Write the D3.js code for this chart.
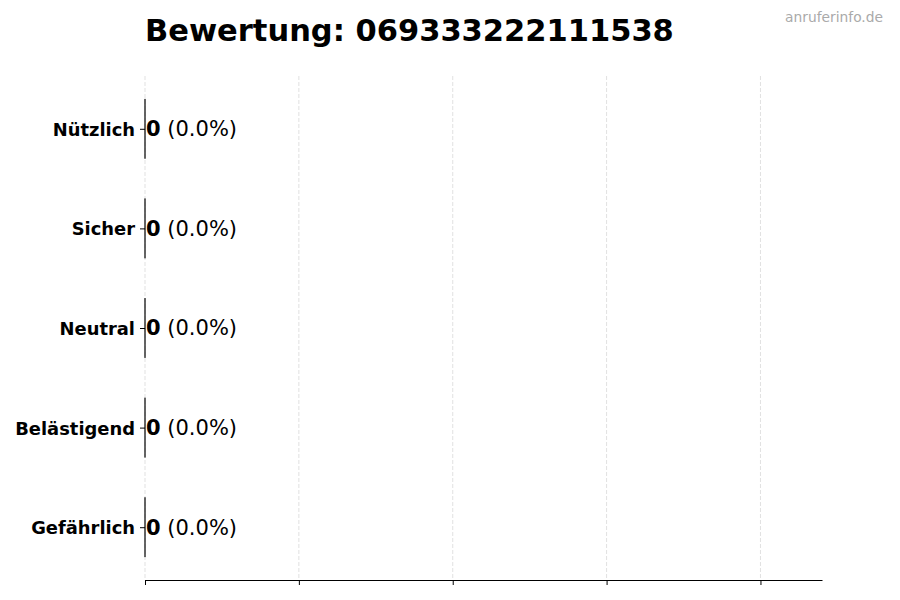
<!DOCTYPE html>
<html><head><meta charset="utf-8">
<script src="https://cdn.jsdelivr.net/npm/d3@7"></script>
<style>body{margin:0;background:#fff}svg{display:block;font-family:"DejaVu Sans",sans-serif}</style>
</head><body>
<svg id="c" width="900" height="600"></svg>
<script>
const categories = ["Gefährlich","Belästigend","Neutral","Sicher","Nützlich"];
const values = [0,0,0,0,0];
const percents = [0.0,0.0,0.0,0.0,0.0];
const xTicks = [0,1,2,3,4];
const titleText = "Bewertung: 069333222111538";
const watermark = "anruferinfo.de";

const svg = d3.select("#c");
const L=145, R=822, T=76, B=580;
const x = d3.scaleLinear().domain([0,4.4]).range([L,R]);
const y = d3.scaleLinear().domain([-0.53,4.53]).range([B,T]);
const barH = 0.6;

// grid
svg.append("g").selectAll("line").data(xTicks).join("line")
  .attr("x1",d=>x(d)).attr("x2",d=>x(d)).attr("y1",T).attr("y2",B)
  .attr("stroke","#d9d9d9").attr("stroke-width",0.8).attr("stroke-dasharray","4,2");

// bars
svg.append("g").selectAll("path").data(values).join("path")
  .attr("d",(v,i)=>{const x0=x(0),x1=x(v),y0=y(i+barH/2),y1=y(i-barH/2);
    return `M${x0},${y0}H${x1}V${y1}H${x0}Z`;})
  .attr("fill","#c0392b").attr("stroke","#333").attr("stroke-width",1);

// bottom axis
const xa = svg.append("g").attr("transform",`translate(0,${B})`)
  .call(d3.axisBottom(x).tickValues(xTicks).tickFormat("").tickSize(5).tickSizeOuter(0));
xa.select(".domain").attr("stroke","#000").attr("stroke-width",1.2);
xa.selectAll(".tick line").attr("stroke","#000").attr("stroke-width",1);

// y ticks and labels
const ya = svg.append("g").attr("transform",`translate(${L},0)`)
  .call(d3.axisLeft(y).tickValues(categories.map((c,i)=>i)).tickFormat(i=>categories[i]).tickSize(5).tickPadding(5));
ya.select(".domain").remove();
ya.selectAll(".tick line").attr("stroke","#000").attr("stroke-width",1);
ya.selectAll(".tick text").attr("font-size",17.9).attr("font-weight","bold")
  .attr("font-family","DejaVu Sans").attr("fill","#000").attr("dy","0.36em");

// value labels
const vl = svg.append("g").selectAll("text").data(values).join("text")
  .attr("x",(v)=>x(v)+1).attr("y",(v,i)=>y(i)).attr("dy","0.35em")
  .attr("font-size",21).attr("fill","#000");
vl.append("tspan").attr("font-weight","bold").text(v=>v);
vl.append("tspan").text((v,i)=>` (${percents[i].toFixed(1)}%)`);

// title
svg.append("text").attr("x",L).attr("y",41).attr("font-size",30.5).attr("font-weight","bold")
  .attr("fill","#000").text(titleText);
svg.append("text").attr("x",883).attr("y",22).attr("text-anchor","end")
  .attr("font-size",13.8).attr("fill","#aaaaaa").text(watermark);
</script>
</body></html>
